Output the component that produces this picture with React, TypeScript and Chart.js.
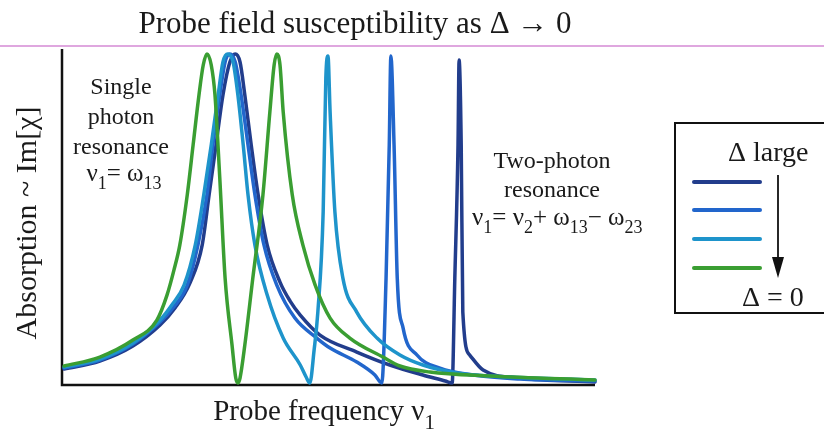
import { useEffect, useRef } from "react";
import { Chart, registerables } from "chart.js";

Chart.register(...registerables);

// ---- data (probe frequency in arbitrary units 0..100, absorption 0..100) ----
const navyFreq = [0.4, 7.1, 13.3, 18.4, 21.2, 24.0, 26.3, 27.6, 28.9, 30.2, 31.5, 32.5, 33.4, 34.3, 35.5, 36.8, 38.5, 40.9, 42.8, 44.7, 48.4, 55.3, 61.5, 67.7, 71.9, 73.2, 73.7, 74.3, 74.5, 74.9, 75.2, 76.5, 79.0, 85.9, 100];
const navyAbs = [4.8, 7.2, 11.7, 18.0, 23.1, 30.6, 42.0, 57.1, 72.1, 87.1, 97.0, 99.4, 97.0, 87.1, 72.1, 57.1, 42.0, 30.9, 25.2, 21.0, 15.0, 9.9, 6.0, 3.0, 1.2, 0.6, 32.1, 72.1, 97.6, 72.1, 21.9, 9.0, 4.5, 2.1, 0.9];

const blueFreq = [0.4, 7.1, 13.3, 18.4, 20.8, 23.5, 25.5, 27.2, 28.3, 29.6, 30.6, 31.5, 32.5, 33.6, 34.9, 36.2, 37.9, 40.3, 43.7, 47.8, 50.3, 55.3, 58.7, 60.0, 60.8, 61.4, 61.7, 62.3, 62.9, 64.0, 66.6, 70.9, 77.1, 85.9, 100];
const blueAbs = [5.1, 7.5, 12.3, 18.9, 23.1, 30.0, 42.0, 57.1, 72.1, 87.1, 97.0, 99.4, 97.0, 87.1, 72.1, 57.1, 42.0, 30.0, 20.1, 14.1, 11.1, 6.9, 3.0, 0.6, 32.1, 72.1, 98.8, 72.1, 32.1, 17.1, 9.0, 5.1, 3.0, 1.8, 1.2];

const cyanFreq = [0.4, 7.1, 13.3, 18.4, 20.6, 22.9, 25.0, 26.6, 28.0, 29.3, 30.2, 31.1, 32.1, 33.0, 34.0, 34.9, 36.2, 38.5, 41.5, 44.7, 45.8, 46.5, 47.3, 48.0, 49.0, 49.5, 49.9, 50.3, 51.2, 52.7, 55.3, 59.1, 63.4, 67.7, 74.1, 80.3, 100];
const cyanAbs = [5.4, 7.8, 12.6, 19.5, 24.0, 30.0, 42.0, 57.1, 72.1, 87.1, 97.0, 99.4, 97.0, 87.1, 72.1, 57.1, 42.0, 27.0, 14.1, 6.0, 2.4, 0.6, 10.5, 21.9, 52.0, 92.2, 98.8, 82.0, 52.0, 32.1, 21.9, 14.1, 9.0, 6.0, 3.6, 2.7, 1.5];

const greenFreq = [0.4, 7.1, 13.3, 17.8, 19.7, 21.0, 22.1, 23.5, 24.6, 25.7, 26.5, 27.2, 28.0, 28.7, 29.6, 30.6, 31.9, 32.6, 33.0, 33.4, 34.3, 35.8, 37.7, 39.0, 39.8, 40.3, 40.9, 41.5, 43.2, 45.2, 47.5, 50.3, 54.0, 60.2, 63.4, 69.0, 80.3, 100];
const greenAbs = [5.7, 8.4, 13.5, 19.5, 27.0, 34.5, 42.0, 57.1, 72.1, 87.1, 96.1, 99.4, 96.1, 87.1, 62.2, 32.1, 12.0, 2.1, 0.6, 2.1, 12.0, 32.1, 57.1, 82.0, 96.1, 99.4, 96.1, 82.0, 57.1, 42.0, 30.0, 20.1, 14.1, 8.4, 5.7, 3.9, 2.7, 1.5];

const seriesColors = ["#223d8c", "#2266cc", "#1e94cb", "#3a9e32"];

const titleText = "Probe field susceptibility as Δ → 0";
const yAxisText = "Absorption ~ Im[χ]";
const xAxisMain = "Probe frequency ν";
const xAxisSub = "1";
const leftNote = ["Single", "photon", "resonance"];
const rightNote = ["Two-photon", "resonance"];
const legendTop = "Δ large";
const legendBottom = "Δ = 0";

type Seg = [string, boolean];
const leftFormula: Seg[] = [["ν", false], ["1", true], ["= ω", false], ["13", true]];
const rightFormula: Seg[] = [["ν", false], ["1", true], ["= ν", false], ["2", true], ["+ ω", false], ["13", true], ["− ω", false], ["23", true]];

const SERIF = '"Liberation Serif", "DejaVu Serif", serif';

function drawRich(ctx: CanvasRenderingContext2D, segs: Seg[], x: number, y: number, size: number, align: "left" | "center") {
  const sub = size * 0.72;
  let w = 0;
  for (const [t, s] of segs) {
    ctx.font = `${s ? sub : size}px ${SERIF}`;
    w += ctx.measureText(t).width;
  }
  let cx = align === "center" ? x - w / 2 : x;
  ctx.textAlign = "left";
  ctx.textBaseline = "alphabetic";
  for (const [t, s] of segs) {
    ctx.font = `${s ? sub : size}px ${SERIF}`;
    ctx.fillText(t, cx, y + (s ? size * 0.32 : 0));
    cx += ctx.measureText(t).width;
  }
}

const decorPlugin = {
  id: "decor",
  beforeDatasetsDraw(chart: any) {
    const ctx: CanvasRenderingContext2D = chart.ctx;
    const { left, right, top, bottom } = chart.chartArea;
    ctx.save();
    ctx.strokeStyle = "#111";
    ctx.lineWidth = 2.5;
    ctx.beginPath();
    ctx.moveTo(left, top - 3);
    ctx.lineTo(left, bottom);
    ctx.lineTo(right, bottom);
    ctx.stroke();
    ctx.restore();
  },
  afterDraw(chart: any) {
    const ctx: CanvasRenderingContext2D = chart.ctx;
    const W = chart.width;
    ctx.save();
    ctx.fillStyle = "#1a1a1a";
    // title
    ctx.font = `31px ${SERIF}`;
    ctx.textAlign = "center";
    ctx.textBaseline = "alphabetic";
    ctx.fillText(titleText, 355, 33);
    // pink rule
    ctx.strokeStyle = "#d48ad4";
    ctx.lineWidth = 1.5;
    ctx.beginPath();
    ctx.moveTo(0, 46);
    ctx.lineTo(W, 46);
    ctx.stroke();
    // y-axis label
    ctx.save();
    ctx.translate(36, 223);
    ctx.rotate(-Math.PI / 2);
    ctx.font = `30px ${SERIF}`;
    ctx.textAlign = "center";
    ctx.fillText(yAxisText, 0, 0);
    ctx.restore();
    // x-axis label
    drawRich(ctx, [[xAxisMain, false], [xAxisSub, true]], 324, 420, 29, "center");
    // left note
    ctx.font = `24px ${SERIF}`;
    ctx.textAlign = "center";
    leftNote.forEach((t, i) => ctx.fillText(t, 121, 94 + i * 30));
    drawRich(ctx, leftFormula, 124, 181, 25, "center");
    // right note
    ctx.font = `24px ${SERIF}`;
    ctx.textAlign = "center";
    rightNote.forEach((t, i) => ctx.fillText(t, 552, 168 + i * 29));
    drawRich(ctx, rightFormula, 472, 225, 25, "left");
    // legend box
    ctx.strokeStyle = "#111";
    ctx.lineWidth = 2;
    ctx.strokeRect(675, 123, 160, 190);
    ctx.font = `28px ${SERIF}`;
    ctx.textAlign = "left";
    ctx.fillText(legendTop, 728, 161);
    ctx.fillText(legendBottom, 742, 306);
    const ly = [182, 210, 239, 268];
    seriesColors.forEach((c, i) => {
      ctx.strokeStyle = c;
      ctx.lineWidth = 4;
      ctx.lineCap = "round";
      ctx.beginPath();
      ctx.moveTo(694, ly[i]);
      ctx.lineTo(760, ly[i]);
      ctx.stroke();
    });
    // arrow
    ctx.strokeStyle = "#111";
    ctx.lineWidth = 1.8;
    ctx.lineCap = "butt";
    ctx.beginPath();
    ctx.moveTo(778, 175);
    ctx.lineTo(778, 260);
    ctx.stroke();
    ctx.beginPath();
    ctx.moveTo(772, 257);
    ctx.lineTo(784, 257);
    ctx.lineTo(778, 278);
    ctx.closePath();
    ctx.fillStyle = "#111";
    ctx.fill();
    ctx.restore();
  },
};

export default function App() {
  const ref = useRef<HTMLCanvasElement | null>(null);
  useEffect(() => {
    document.body.style.margin = "0";
    const canvas = ref.current;
    if (!canvas) return;
    const mk = (fx: number[], fy: number[], color: string, order: number) => ({
      data: fx.map((x, i) => ({ x, y: fy[i] })),
      borderColor: color,
      backgroundColor: color,
      borderWidth: 3.5,
      pointRadius: 0,
      fill: false,
      cubicInterpolationMode: "monotone" as const,
      borderCapStyle: "round" as const,
      borderJoinStyle: "round" as const,
      clip: false as const,
      order,
    });
    const chart = new Chart(canvas, {
      type: "line",
      data: {
        datasets: [
          mk(greenFreq, greenAbs, seriesColors[3], 1),
          mk(cyanFreq, cyanAbs, seriesColors[2], 2),
          mk(blueFreq, blueAbs, seriesColors[1], 3),
          mk(navyFreq, navyAbs, seriesColors[0], 4),
        ],
      },
      options: {
        responsive: false,
        animation: false,
        events: [],
        layout: { padding: { left: 62, right: 229, top: 52, bottom: 49 } },
        plugins: { legend: { display: false }, title: { display: false }, tooltip: { enabled: false } },
        scales: {
          x: { type: "linear", min: 0, max: 100, display: false },
          y: { type: "linear", min: 0, max: 100, display: false },
        },
      },
      plugins: [decorPlugin],
    });
    return () => chart.destroy();
  }, []);
  return (
    <div style={{ width: 824, height: 434, background: "#fff" }}>
      <canvas ref={ref} width={824} height={434} style={{ display: "block", width: 824, height: 434 }} />
    </div>
  );
}
